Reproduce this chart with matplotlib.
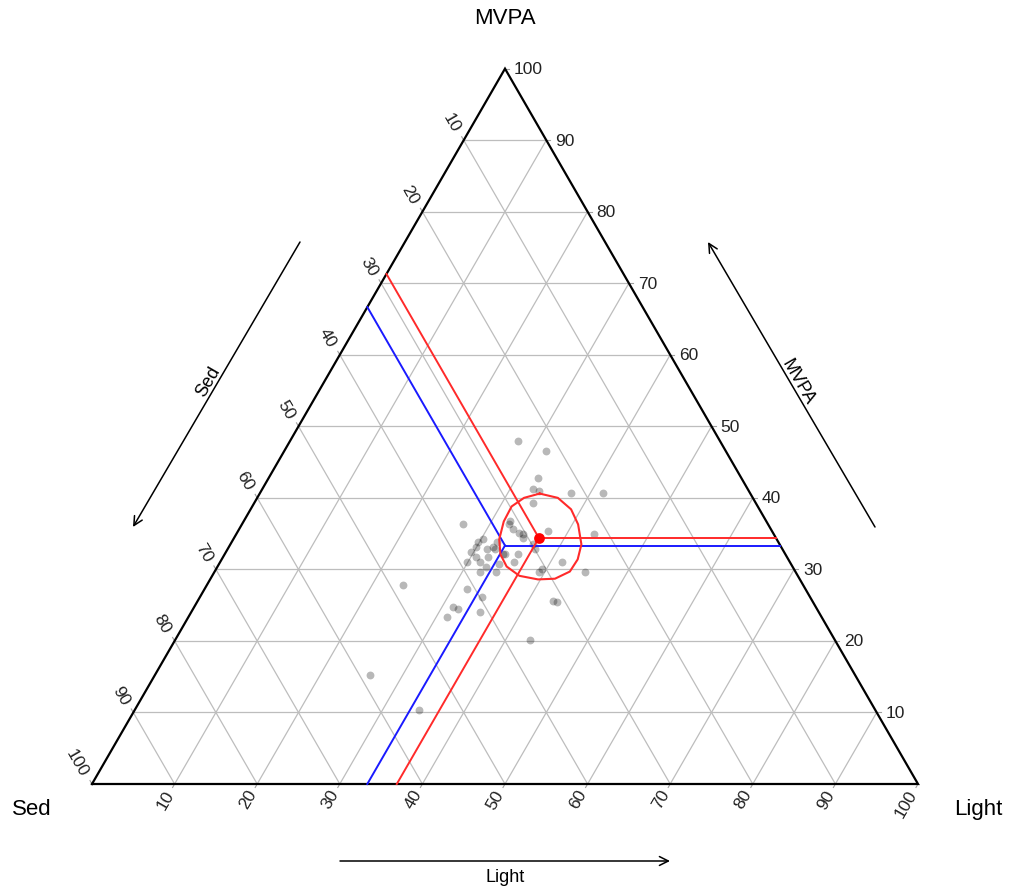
import numpy as np
import matplotlib
matplotlib.use("Agg")
import matplotlib.pyplot as plt

plt.rcParams['font.family'] = ['Liberation Sans', 'DejaVu Sans']

# ---------------- data ----------------
corner_labels = ["Sed", "Light", "MVPA"]
tick_values = [10, 20, 30, 40, 50, 60, 70, 80, 90, 100]

# observations (percent)
pts_sed = [24.4, 21.7, 24.6, 26.0, 25.4, 21.7, 17.8, 26.9, 27.1, 31.0,
           30.4, 30.6, 30.0, 27.6, 30.5, 33.3, 34.0, 34.8, 33.9, 36.9,
           36.3, 35.8, 37.9, 37.7, 37.5, 36.2, 34.9, 31.4, 31.2, 35.4,
           39.0, 37.2, 34.2, 38.2, 36.2, 41.0, 39.7, 44.0, 43.5, 45.3,
           41.0, 31.4, 31.0, 36.9, 31.0, 48.4, 58.7, 55.3, 21.8, 25.5,
           29.9, 30.7, 35.6, 37.0, 32.4]
pts_light = [27.6, 31.7, 32.6, 32.7, 33.7, 37.6, 41.5, 33.8, 37.6, 32.3,
             34.7, 35.0, 37.2, 41.3, 39.5, 35.6, 32.1, 32.4, 34.0, 26.8,
             29.8, 31.4, 29.6, 30.6, 31.5, 32.1, 32.0, 32.3, 33.2, 33.9,
             29.9, 32.5, 33.7, 32.1, 34.1, 31.8, 34.2, 31.3, 32.1, 31.3,
             35.0, 43.0, 43.6, 43.0, 39.3, 23.8, 26.0, 34.4, 43.3, 44.8,
             36.6, 34.2, 30.2, 29.9, 35.5]
pts_mvpa = [48.0, 46.6, 42.8, 41.3, 40.9, 40.7, 40.7, 39.3, 35.3, 36.7,
            34.9, 34.4, 32.8, 31.1, 30.0, 31.1, 33.9, 32.8, 32.1, 36.3,
            33.9, 32.8, 32.5, 31.7, 31.0, 31.7, 33.1, 36.3, 35.6, 30.7,
            31.1, 30.3, 32.1, 29.7, 29.7, 27.2, 26.1, 24.7, 24.4, 23.4,
            24.0, 25.6, 25.4, 20.1, 29.7, 27.8, 15.3, 10.3, 34.9, 29.7,
            33.5, 35.1, 34.2, 33.1, 32.1]

# compositional mean (red) and neutral centre (blue): Sed, Light, MVPA
mean_comp = [28.7, 36.9, 34.4]
centre_comp = [33.33, 33.33, 33.34]

# confidence region around the mean
region_sed = [25.5, 23.6, 22.8, 23.0, 24.0, 25.5, 27.3, 29.6, 31.7, 33.7,
              34.6, 34.5, 33.6, 31.8, 29.8, 27.7]
region_light = [33.9, 36.4, 38.8, 40.7, 42.5, 43.1, 43.0, 41.7, 39.7, 37.2,
                35.0, 33.4, 32.2, 31.5, 31.4, 32.3]
region_mvpa = [40.6, 40.0, 38.4, 36.3, 33.5, 31.4, 29.7, 28.7, 28.6, 29.1,
               30.4, 32.1, 34.2, 36.7, 38.8, 40.0]

# ---------------- helpers ----------------
SQ = np.sqrt(3) / 2
PX = 826.0  # pixels per triangle side


def tern(s, l, m):
    s, l, m = (np.asarray(v, dtype=float) for v in (s, l, m))
    tot = s + l + m
    l = l / tot
    m = m / tot
    return l + m / 2, m * SQ


def px(dx, dy):
    return dx / PX, dy / PX


fig = plt.figure(figsize=(10.10, 8.87), dpi=100)
ax = fig.add_axes([0, 0, 1, 1])
ax.set_xlim(-92 / PX, (1010 - 92) / PX)
ax.set_ylim(-(887 - 785) / PX, 785 / PX)
ax.axis('off')

grid_kw = dict(color='#bdbdbd', lw=0.9, zorder=1)
for v in tick_values[:-1]:
    # constant MVPA
    x, y = tern([100 - v, 0], [0, 100 - v], [v, v])
    ax.plot(x, y, **grid_kw)
    # constant Sed
    x, y = tern([v, v], [0, 100 - v], [100 - v, 0])
    ax.plot(x, y, **grid_kw)
    # constant Light
    x, y = tern([100 - v, 0], [v, v], [0, 100 - v])
    ax.plot(x, y, **grid_kw)

# triangle outline
x, y = tern([100, 0, 0, 100], [0, 100, 0, 0], [0, 0, 100, 0])
ax.plot(x, y, color='black', lw=1.6, zorder=3, solid_joinstyle='miter')

# tick labels
tick_fs = 12.5
tl = 4 / PX
tick_kw = dict(color='#a0a0a0', lw=0.8, zorder=2)
for v in tick_values:
    # Sed, left edge
    x, y = tern(v, 0, 100 - v)
    ax.plot([x, x - tl * 0.5], [y, y + tl * SQ], **tick_kw)
    dx, dy = px(-7.5, 9.2)
    ax.text(x + dx, y + dy, str(v), rotation=-60, rotation_mode='anchor',
            ha='right', va='center', fontsize=tick_fs, color='#222222')
    # Light, bottom edge
    x, y = tern(100 - v, v, 0)
    ax.plot([x, x - tl * 0.5], [y, y - tl * SQ], **tick_kw)
    dx, dy = px(-4.5, -6.5)
    ax.text(x + dx, y + dy, str(v), rotation=60, rotation_mode='anchor',
            ha='right', va='center', fontsize=tick_fs, color='#222222')
    # MVPA, right edge
    x, y = tern(0, 100 - v, v)
    ax.plot([x, x + tl], [y, y], **tick_kw)
    dx, dy = px(9, 0)
    ax.text(x + dx, y + dy, str(v), ha='left', va='center',
            fontsize=tick_fs, color='#222222')

# corner labels
corner_fs = 16
ax.text(*px(505 - 92, 785 - 18), corner_labels[2], ha='center', va='center', fontsize=corner_fs)
ax.text(*px(32 - 92, 785 - 810), corner_labels[0], ha='center', va='center', fontsize=corner_fs)
ax.text(*px(978 - 92, 785 - 810), corner_labels[1], ha='center', va='center', fontsize=corner_fs)

# direction arrows
arr_kw = dict(arrowstyle='->', lw=1.1, color='black', mutation_scale=16,
              shrinkA=0, shrinkB=0)
ax.annotate('', xy=px(133 - 92, 785 - 528), xytext=px(300 - 92, 785 - 243), arrowprops=arr_kw)
ax.annotate('', xy=px(708 - 92, 785 - 243), xytext=px(875 - 92, 785 - 528), arrowprops=arr_kw)
ax.annotate('', xy=px(670 - 92, 785 - 862), xytext=px(340 - 92, 785 - 862), arrowprops=arr_kw)
lab_fs = 13
ax.text(*px(208 - 92, 785 - 382), corner_labels[0], rotation=60, ha='center', va='center', fontsize=lab_fs)
ax.text(*px(798 - 92, 785 - 382), corner_labels[2], rotation=-60, ha='center', va='center', fontsize=lab_fs)
ax.text(*px(505 - 92, 785 - 878), corner_labels[1], ha='center', va='center', fontsize=lab_fs)

# observations
x, y = tern(pts_sed, pts_light, pts_mvpa)
ax.scatter(x, y, s=32, color='black', alpha=0.28, linewidths=0, zorder=4)


def guide_lines(comp, color):
    s, l, m = comp
    cx, cy = tern(s, l, m)
    for target in [(0, 100 - m, m), (s, 0, 100 - s), (100 - l, l, 0)]:
        tx, ty = tern(*target)
        ax.plot([cx, tx], [cy, ty], color=color, lw=1.4, zorder=5)
    return cx, cy


guide_lines(centre_comp, '#1a1aff')
mx, my = guide_lines(mean_comp, '#ff2a2a')

# confidence region
x, y = tern(region_sed + region_sed[:1], region_light + region_light[:1],
            region_mvpa + region_mvpa[:1])
ax.plot(x, y, color='#ff2a2a', lw=1.5, zorder=6, solid_joinstyle='round')
ax.scatter([mx], [my], s=60, color='#ff0000', linewidths=0, zorder=7)

fig.savefig('out.png', dpi=100)
